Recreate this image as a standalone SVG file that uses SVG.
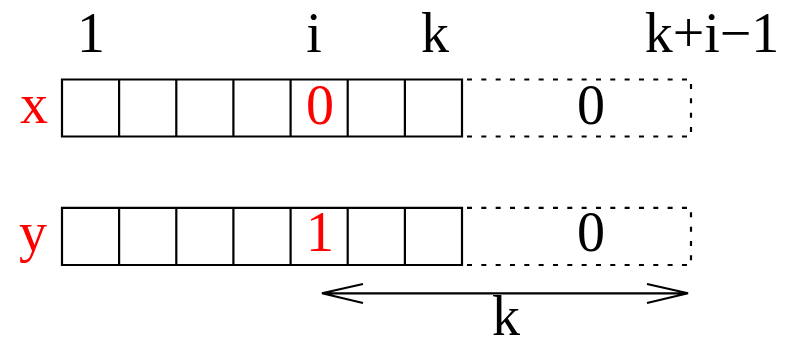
<svg xmlns="http://www.w3.org/2000/svg" width="785" height="337" viewBox="0 0 785 337">
<style>
.t{font-family:"Liberation Serif","Times New Roman",serif;font-size:56px;text-anchor:middle;fill:#000}
.r{fill:#ff0000}
.cell{fill:none;stroke:#000;stroke-width:2.2}
.dot{fill:none;stroke:#000;stroke-width:2.2;stroke-dasharray:5 9.33}
.arr{fill:none;stroke:#000;stroke-width:2.2}
</style>
<rect width="785" height="337" fill="#fff"/>
<g id="index-labels">
<text class="t" x="91" y="52">1</text>
<text class="t" x="314" y="52">i</text>
<text class="t" x="435" y="52">k</text>
<text class="t" x="712" y="52">k+i−1</text>
</g>
<g id="row-x">
<text class="t r" x="34" y="123">x</text>
<path class="cell" d="M62 79.5H462V136.5H62Z M119.1 79.5V136.5 M176.3 79.5V136.5 M233.4 79.5V136.5 M290.6 79.5V136.5 M347.7 79.5V136.5 M404.9 79.5V136.5"/>
<text class="t r" x="320" y="124">0</text>
<path class="dot" d="M467 79.5H691 M467 136.5H691"/>
<path class="dot" d="M691 84V137"/>
<text class="t" x="591" y="124">0</text>
</g>
<g id="row-y">
<text class="t r" x="33" y="251">y</text>
<path class="cell" d="M62 207.8H462V265H62Z M119.1 207.8V265 M176.3 207.8V265 M233.4 207.8V265 M290.6 207.8V265 M347.7 207.8V265 M404.9 207.8V265"/>
<text class="t r" x="320" y="251">1</text>
<path class="dot" d="M467 207.8H691 M467 265H691"/>
<path class="dot" d="M691 212.3V265.5"/>
<text class="t" x="591" y="251">0</text>
</g>
<g id="connectors">
<path class="arr" d="M322 293.3H688 M363 284L322 293.3L363 303 M647 284L688 293.3L647 303"/>
</g>
<g id="span-label">
<text class="t" x="506" y="335">k</text>
</g>
</svg>
